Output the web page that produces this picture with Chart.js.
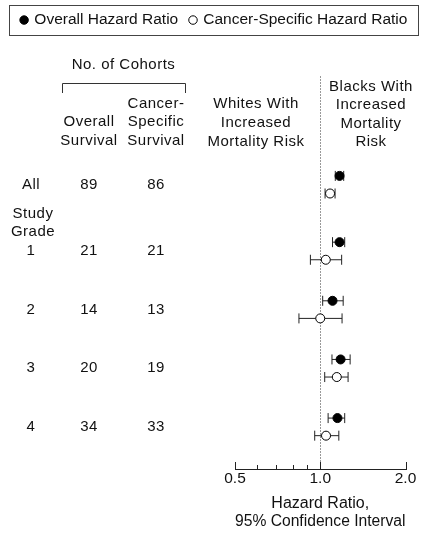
<!DOCTYPE html>
<html>
<head>
<meta charset="utf-8">
<script src="https://cdn.jsdelivr.net/npm/chart.js@4.4.1/dist/chart.umd.min.js"></script>
<style>
  html, body { margin: 0; padding: 0; background: #fff; }
  canvas { display: block; }
</style>
</head>
<body>
<canvas id="forest" width="421" height="550"></canvas>
<script>
// Rows of the forest plot: pooled estimate, then by study grade
const rowLabels = ['All', '1', '2', '3', '4'];
const overallCohorts = [89, 21, 14, 20, 34];
const cancerCohorts = [86, 21, 13, 19, 33];

// Hazard ratios (Blacks vs Whites) with 95% confidence limits
const overallHR   = [1.17, 1.17, 1.105, 1.18, 1.15];
const overallLow  = [1.13, 1.105, 1.02, 1.10, 1.066];
const overallHigh = [1.21, 1.22, 1.205, 1.275, 1.22];
const cancerHR    = [1.083, 1.046, 1.00, 1.144, 1.048];
const cancerLow   = [1.04, 0.923, 0.841, 1.037, 0.956];
const cancerHigh  = [1.128, 1.19, 1.194, 1.254, 1.163];

// Hazard-ratio axis
const majorTicks = [0.5, 1.0, 2.0];
const minorTicks = [0.6, 0.7, 0.8, 0.9];

// Layout of rows along the (hidden) vertical scale, in row units
const GRADE_GAP = 0.13;      // extra room for the "Study Grade" heading
const PAIR_OFFSET = 0.15;    // split between the two estimates of a row
const REF_LINE_TOP = -1.845; // where the HR = 1 guide starts
const rowY = i => (i === 0 ? 0 : i + GRADE_GAP);

const FONT = '"Liberation Sans", Arial, Helvetica, sans-serif';
const INK = '#111';

function pointSeries(values, offset) {
  return values.map((v, i) => ({ x: v, y: rowY(i) + offset }));
}
function ciSeries(lo, hi, offset) {
  const pts = [];
  lo.forEach((l, i) => {
    const y = rowY(i) + offset;
    pts.push({ x: l, y }, { x: hi[i], y }, { x: null, y: null });
  });
  return pts;
}

const forestDecor = {
  id: 'forestDecor',
  beforeDatasetsDraw(chart) {
    const { ctx, chartArea, scales: { x, y } } = chart;
    const px = Math.round(x.getPixelForValue(1)) + 0.5;
    ctx.save();
    ctx.strokeStyle = '#333';
    ctx.lineWidth = 1;
    ctx.setLineDash([1, 2]);
    ctx.beginPath();
    ctx.moveTo(px, y.getPixelForValue(REF_LINE_TOP));
    ctx.lineTo(px, chartArea.bottom);
    ctx.stroke();
    ctx.restore();
  },
  afterDraw(chart) {
    const { ctx, chartArea, scales: { x, y }, legend } = chart;
    ctx.save();
    ctx.strokeStyle = '#222';
    ctx.lineWidth = 1;

    // tick marks rise from the axis line
    const bottom = Math.round(chartArea.bottom);
    majorTicks.concat(minorTicks).forEach(v => {
      const px = Math.round(x.getPixelForValue(v)) + 0.5;
      const len = majorTicks.includes(v) ? 8 : 5;
      ctx.beginPath();
      ctx.moveTo(px, bottom);
      ctx.lineTo(px, bottom - len);
      ctx.stroke();
    });

    // frame round the legend
    const boxes = legend.legendHitBoxes;
    if (boxes && boxes.length) {
      const first = boxes[0], last = boxes[boxes.length - 1];
      const cy = first.top + first.height / 2;
      const l = Math.round(first.left - 12.5) + 0.5;
      const r = Math.round(last.left + last.width + 11) + 0.5;
      ctx.strokeStyle = '#444';
      ctx.strokeRect(l, Math.round(cy - 15) + 0.5, r - l, 30);
    }

    // column headings
    ctx.fillStyle = INK;
    ctx.font = '15px ' + FONT;
    ctx.letterSpacing = '0.5px';
    ctx.textAlign = 'center';
    ctx.textBaseline = 'middle';
    const text = (s, tx, ty) => ctx.fillText(s, tx, ty);
    text('No. of Cohorts', 123.5, 65);
    ctx.strokeStyle = '#333';
    ctx.beginPath();
    ctx.moveTo(62.5, 93);
    ctx.lineTo(62.5, 83.5);
    ctx.lineTo(185.5, 83.5);
    ctx.lineTo(185.5, 93);
    ctx.stroke();

    const col1 = 89, col2 = 156, labelCol = 31;
    text('Overall', col1, 122.3);
    text('Survival', col1, 140.7);
    text('Cancer-', col2, 103.5);
    text('Specific', col2, 122.3);
    text('Survival', col2, 140.7);

    const whitesX = 256, blacksX = 371;
    text('Whites With', whitesX, 104.3);
    text('Increased', whitesX, 123.3);
    text('Mortality Risk', whitesX, 141.7);
    text('Blacks With', blacksX, 86.7);
    text('Increased', blacksX, 105.3);
    text('Mortality', blacksX, 123.7);
    text('Risk', blacksX, 142);

    // row labels and cohort counts, placed on the rows' scale positions
    rowLabels.forEach((lab, i) => {
      const py = y.getPixelForValue(rowY(i));
      text(lab, labelCol, py);
      text(String(overallCohorts[i]), col1, py);
      text(String(cancerCohorts[i]), col2, py);
    });
    const g1 = y.getPixelForValue(rowY(1));
    text('Study', 33, g1 - 37.5);
    text('Grade', 33, g1 - 19);
    ctx.restore();
  }
};

new Chart(document.getElementById('forest'), {
  type: 'scatter',
  data: {
    datasets: [
      {
        label: 'Overall Hazard Ratio',
        data: pointSeries(overallHR, -PAIR_OFFSET),
        pointStyle: 'circle',
        pointRadius: 4.5,
        pointBackgroundColor: '#000',
        backgroundColor: '#000',
        pointBorderColor: '#000',
        borderColor: '#000',
        pointBorderWidth: 1
      },
      {
        label: 'Cancer-Specific Hazard Ratio',
        data: pointSeries(cancerHR, PAIR_OFFSET),
        pointStyle: 'circle',
        pointRadius: 4.5,
        pointBackgroundColor: '#fff',
        backgroundColor: '#fff',
        pointBorderColor: '#000',
        borderColor: '#000',
        pointBorderWidth: 1
      },
      {
        label: 'Overall 95% CI',
        data: ciSeries(overallLow, overallHigh, -PAIR_OFFSET),
        showLine: true,
        spanGaps: false,
        borderColor: '#222',
        borderWidth: 1,
        pointStyle: 'line',
        pointRotation: 90,
        pointRadius: 5,
        pointBorderWidth: 1,
        pointBorderColor: '#222'
      },
      {
        label: 'Cancer-Specific 95% CI',
        data: ciSeries(cancerLow, cancerHigh, PAIR_OFFSET),
        showLine: true,
        spanGaps: false,
        borderColor: '#222',
        borderWidth: 1,
        pointStyle: 'line',
        pointRotation: 90,
        pointRadius: 5,
        pointBorderWidth: 1,
        pointBorderColor: '#222'
      }
    ]
  },
  options: {
    responsive: false,
    animation: false,
    events: [],
    devicePixelRatio: 1,
    layout: { padding: { left: 8, right: 0, top: 0, bottom: 0 } },
    plugins: {
      tooltip: { enabled: false },
      legend: {
        position: 'top',
        align: 'center',
        labels: {
          usePointStyle: true,
          boxWidth: 5,
          boxHeight: 6,
          padding: 12.3,
          color: INK,
          font: { family: FONT, size: 15.5 },
          filter: item => item.datasetIndex < 2
        }
      }
    },
    scales: {
      x: {
        type: 'logarithmic',
        min: 0.5,
        max: 2.0,
        afterBuildTicks: s => {
          s.ticks = majorTicks.concat(minorTicks).sort((a, b) => a - b).map(v => ({ value: v }));
        },
        ticks: {
          autoSkip: false,
          maxRotation: 0,
          padding: 0,
          color: INK,
          font: { family: FONT, size: 15.5 },
          callback: v => (majorTicks.includes(v) ? v.toFixed(1) : '')
        },
        grid: { display: false, drawTicks: false },
        border: { display: true, color: '#222', width: 1 },
        title: {
          display: true,
          text: ['Hazard Ratio,', '95% Confidence Interval'],
          color: INK,
          font: { family: FONT, size: 16, lineHeight: '18.3px' },
          padding: { top: 5.65, bottom: 19.35 }
        }
      },
      y: {
        type: 'linear',
        reverse: true,
        min: -2.505,
        max: 4.862,
        position: 'left',
        ticks: { display: false },
        grid: { display: false, drawTicks: false },
        border: { display: false },
        afterFit: s => { s.width = 227; }
      },
      yr: {
        type: 'linear',
        position: 'right',
        ticks: { display: false },
        grid: { display: false, drawTicks: false },
        border: { display: false },
        afterFit: s => { s.width = 15.5; }
      }
    }
  },
  plugins: [forestDecor]
});
</script>
</body>
</html>
